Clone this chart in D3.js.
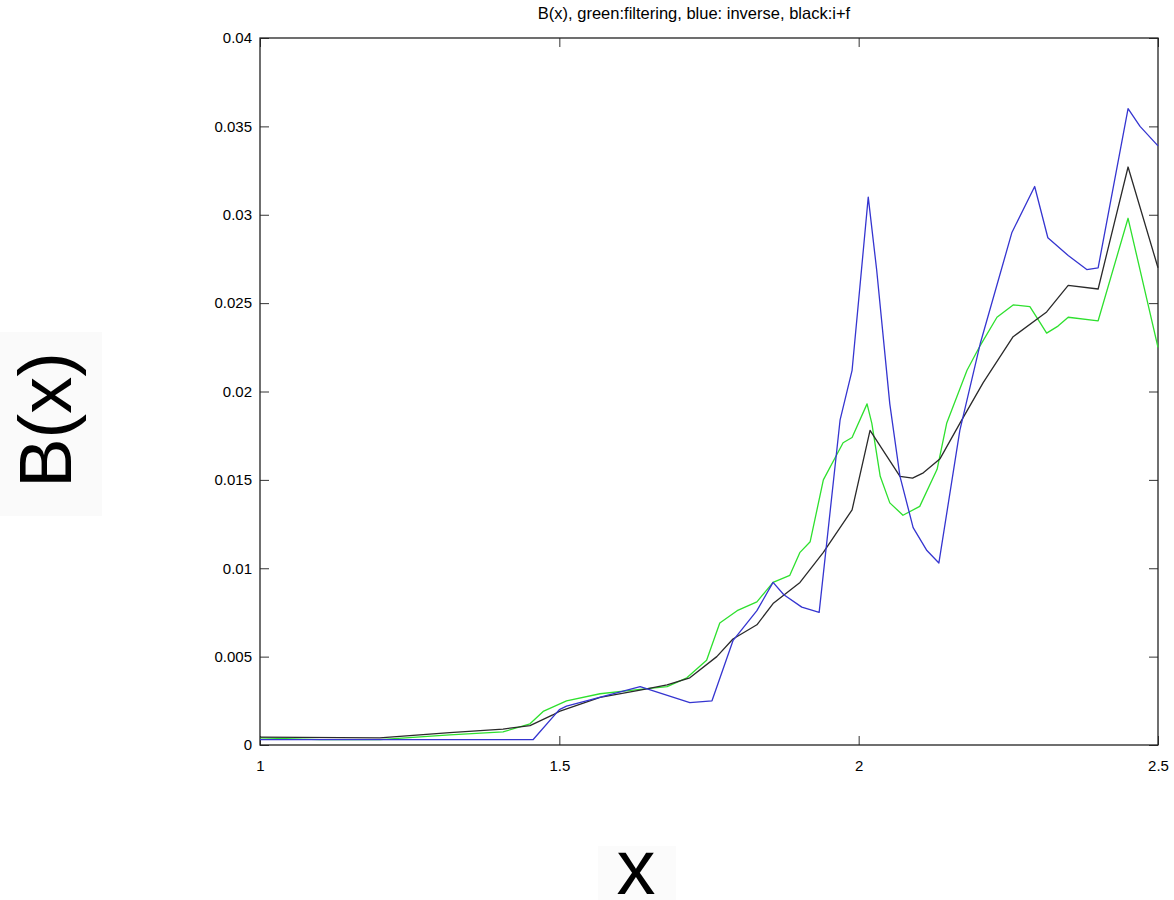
<!DOCTYPE html>
<html>
<head>
<meta charset="utf-8">
<script src="https://cdn.jsdelivr.net/npm/d3@7"></script>
<style>
  html, body { margin: 0; padding: 0; background: #fff; }
  svg { display: block; }
  text { font-family: "Liberation Sans", Arial, sans-serif; fill: #000; }
</style>
</head>
<body>
<svg id="chart" width="1174" height="900"></svg>
<script>
// x ticks and y ticks
const xTicks = [1, 1.5, 2, 2.5];
const yTicks = [0, 0.005, 0.01, 0.015, 0.02, 0.025, 0.03, 0.035, 0.04];
const yTickLabels = ["0", "0.005", "0.01", "0.015", "0.02", "0.025", "0.03", "0.035", "0.04"];

// blue: inverse
const blueX = [1.0, 1.456, 1.5, 1.512, 1.635, 1.718, 1.755, 1.790, 1.830, 1.857, 1.875, 1.905, 1.934,
               1.969, 1.989, 2.002, 2.016, 2.030, 2.052, 2.069, 2.091, 2.114, 2.134, 2.169, 2.203,
               2.256, 2.294, 2.316, 2.350, 2.381, 2.400, 2.450, 2.470, 2.500];
const blueY = [0.0003, 0.0003, 0.0020, 0.0022, 0.0033, 0.0024, 0.0025, 0.0059, 0.0076, 0.0092, 0.0085, 0.0078, 0.0075,
               0.0184, 0.0212, 0.0259, 0.0310, 0.0269, 0.0193, 0.0152, 0.0123, 0.0110, 0.0103, 0.0178, 0.0227,
               0.0290, 0.0316, 0.0287, 0.0277, 0.0269, 0.0270, 0.0360, 0.0350, 0.0339];

// green: filtering
const greenX = [1.0, 1.1, 1.2, 1.317, 1.406, 1.451, 1.473, 1.512, 1.568, 1.623, 1.680, 1.713, 1.746, 1.768,
                1.797, 1.830, 1.857, 1.885, 1.902, 1.919, 1.941, 1.974, 1.989, 2.014, 2.022, 2.036, 2.052,
                2.074, 2.102, 2.131, 2.147, 2.181, 2.203, 2.231, 2.258, 2.286, 2.303, 2.314, 2.333, 2.350,
                2.400, 2.450, 2.500];
const greenY = [0.0004, 0.0003, 0.0003, 0.00057, 0.00074, 0.0012, 0.0019, 0.0025, 0.0029, 0.0031, 0.0033, 0.0038, 0.0048, 0.0069,
                0.0076, 0.0081, 0.0092, 0.0096, 0.0109, 0.0115, 0.0150, 0.0171, 0.0174, 0.0193, 0.0182, 0.0152, 0.0137,
                0.0130, 0.0135, 0.0156, 0.0182, 0.0212, 0.0226, 0.0242, 0.0249, 0.0248, 0.0239, 0.0233, 0.0237, 0.0242,
                0.0240, 0.0298, 0.0225];

// black: inverse + filtering
const blackX = [1.0, 1.2, 1.317, 1.406, 1.451, 1.489, 1.5, 1.568, 1.635, 1.680, 1.718, 1.763, 1.790, 1.830,
                1.857, 1.902, 1.941, 1.989, 2.019, 2.069, 2.090, 2.108, 2.136, 2.169, 2.208, 2.258, 2.314,
                2.350, 2.400, 2.450, 2.500];
const blackY = [0.00045, 0.0004, 0.0007, 0.0009, 0.0011, 0.0017, 0.0019, 0.0027, 0.0031, 0.0034, 0.0038, 0.0050, 0.0060, 0.0068,
                0.0080, 0.0092, 0.0109, 0.0133, 0.0178, 0.0152, 0.0151, 0.0154, 0.0162, 0.0182, 0.0205, 0.0231, 0.0245,
                0.0260, 0.0258, 0.0327, 0.0270];

const series = [
  { xs: greenX, ys: greenY, color: "#2ee02e" },
  { xs: blackX, ys: blackY, color: "#2a2a2a" },
  { xs: blueX,  ys: blueY,  color: "#3535d0" }
];

const svg = d3.select("#chart");
const plotL = 260, plotR = 1158, plotT = 38, plotB = 745;

const x = d3.scaleLinear().domain([1, 2.5]).range([plotL, plotR]);
const y = d3.scaleLinear().domain([0, 0.04]).range([plotB, plotT]);

// faint backdrop patches behind the big axis labels
svg.append("rect").attr("x", 0).attr("y", 332).attr("width", 102).attr("height", 184).attr("fill", "#fafafa");
svg.append("rect").attr("x", 598).attr("y", 846).attr("width", 78).attr("height", 54).attr("fill", "#fbfbfb");

// title
svg.append("text")
  .attr("x", 694).attr("y", 19)
  .attr("text-anchor", "middle")
  .style("font-size", "16.5px")
  .text("B(x), green:filtering, blue: inverse, black:i+f");

// axes with inward ticks
const tickLen = 9;
const gx = svg.append("g").attr("transform", `translate(0,${plotB})`)
  .call(d3.axisBottom(x).tickValues(xTicks).tickSizeInner(-tickLen).tickSizeOuter(0).tickPadding(15)
        .tickFormat(d3.format("")));
const gy = svg.append("g").attr("transform", `translate(${plotL},0)`)
  .call(d3.axisLeft(y).tickValues(yTicks).tickSizeInner(-tickLen).tickSizeOuter(0).tickPadding(8)
        .tickFormat((d, i) => yTickLabels[i]));
const gxTop = svg.append("g").attr("transform", `translate(0,${plotT})`)
  .call(d3.axisTop(x).tickValues(xTicks).tickSizeInner(-tickLen).tickSizeOuter(0).tickFormat(""));
const gyRight = svg.append("g").attr("transform", `translate(${plotR},0)`)
  .call(d3.axisRight(y).tickValues(yTicks).tickSizeInner(-tickLen).tickSizeOuter(0).tickFormat(""));

[gx, gy, gxTop, gyRight].forEach(g => {
  g.select(".domain").remove();
  g.selectAll(".tick line").attr("stroke", "#333").attr("stroke-width", 1);
  g.selectAll(".tick text").style("font-size", "15px").style("font-family", "'Liberation Sans', Arial, sans-serif").attr("fill", "#000");
});

// frame
svg.append("rect")
  .attr("x", plotL).attr("y", plotT)
  .attr("width", plotR - plotL).attr("height", plotB - plotT)
  .attr("fill", "none").attr("stroke", "#222").attr("stroke-width", 1.3);

// curves
const line = d3.line().x(d => x(d[0])).y(d => y(d[1]));
series.forEach(s => {
  const pts = s.xs.map((v, i) => [v, s.ys[i]]);
  svg.append("path")
    .datum(pts)
    .attr("d", line)
    .attr("fill", "none")
    .attr("stroke", s.color)
    .attr("stroke-width", 1.3)
    .attr("stroke-linejoin", "round");
});

// axis labels
svg.append("text")
  .attr("transform", "translate(71,420) rotate(-90)")
  .attr("text-anchor", "middle")
  .style("font-size", "74px")
  .text("B(x)");

svg.append("text")
  .attr("x", 636).attr("y", 894)
  .attr("text-anchor", "middle")
  .style("font-size", "78px")
  .text("x");
</script>
</body>
</html>
